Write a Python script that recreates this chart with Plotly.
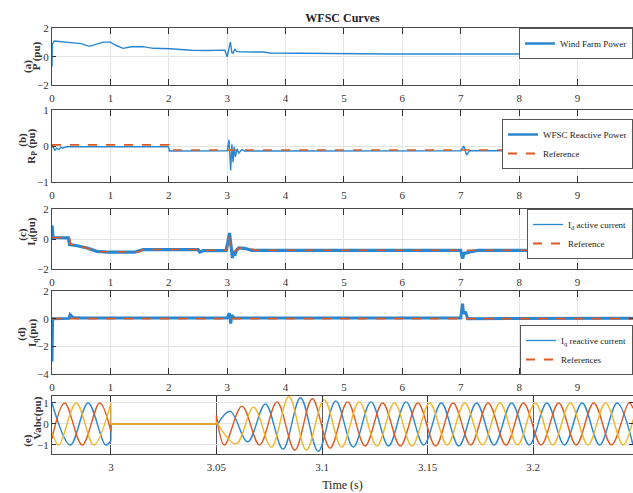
import plotly.graph_objects as go

# ---------------- data ----------------
# (a) Wind farm power
P_T = [0, 0.005, 0.04, 0.25, 0.42, 0.5, 0.64, 0.77, 0.88, 1.0, 1.1, 1.22, 1.36, 1.56, 1.73, 2.02, 2.19, 2.39, 2.65, 2.96,
       3.0, 3.03, 3.055, 3.08, 3.1, 3.13, 3.16, 3.22, 3.62, 3.74, 4.5, 5.7, 5.8, 9.95]
P_V = [-0.7, 0.9, 1.12, 1.04, 1.0, 0.93, 0.74, 0.93, 1.04, 1.04, 0.8, 0.6, 0.71, 0.72, 0.6, 0.57, 0.52, 0.46, 0.45, 0.47,
       0.0, 0.6, 1.05, 0.3, 0.25, 0.55, 0.38, 0.35, 0.34, 0.27, 0.26, 0.25, 0.2, 0.2]

# (b) Reactive power and reference
RP_T = [0, 0.02, 0.05, 0.08, 0.12, 0.15, 0.18, 0.25, 1.99, 2.0, 2.01, 3.0, 3.03, 3.06, 3.08, 3.1, 3.12, 3.14, 3.17, 3.2,
        3.25, 3.3, 7.0, 7.05, 7.1, 7.15, 9.95]
RP_V = [0.03, -0.05, -0.12, -0.06, -0.1, -0.03, -0.06, -0.02, -0.02, -0.05, -0.14, -0.13, 0.17, -0.68, 0.05, -0.45, -0.02,
        -0.3, -0.08, -0.2, -0.1, -0.14, -0.13, 0.0, -0.25, -0.13, -0.13]
RREF_T = [0, 2.0, 2.0, 9.95]
RREF_V = [0.03, 0.03, -0.11, -0.11]

# (c) Id active current and reference
ID_T = [0, 0.01, 0.02, 0.28, 0.3, 0.43, 0.6, 0.77, 0.95, 1.41, 1.5, 1.56, 2.5, 2.53, 2.59, 2.98, 3.01, 3.04, 3.07, 3.09,
        3.11, 3.13, 3.16, 3.2, 3.3, 3.42, 7.0, 7.03, 7.06, 7.1, 7.2, 7.3, 9.95]
ID_V = [0.9, 0.3, 0.1, 0.08, -0.38, -0.45, -0.6, -0.82, -0.88, -0.88, -0.78, -0.71, -0.71, -0.87, -0.78, -0.78, -0.24,
        0.4, -0.6, -1.27, -0.8, -1.1, -0.75, -0.6, -0.62, -0.76, -0.76, -1.3, -0.95, -0.93, -0.82, -0.76, -0.76]
IDR_T = [0, 0.3, 0.32, 0.5, 0.8, 1.5, 1.55, 2.5, 2.55, 2.65, 3.0, 3.03, 3.06, 3.1, 3.2, 3.35, 3.5, 9.95]
IDR_V = [0.1, 0.1, -0.35, -0.5, -0.85, -0.85, -0.7, -0.7, -0.82, -0.75, -0.75, 0.2, -0.5, -0.9, -0.6, -0.62, -0.75, -0.75]

# (d) Iq reactive current and reference
IQ_T = [0, 0.01, 0.29, 0.31, 0.36, 0.5, 3.0, 3.04, 3.06, 3.08, 3.12, 7.0, 7.03, 7.05, 7.08, 7.12, 9.95]
IQ_V = [-3.1, 0.0, 0.02, 0.3, 0.08, 0.05, 0.05, 0.4, -0.35, 0.25, 0.05, 0.05, 1.08, 0.35, 0.5, 0.0, 0.03]
IQR_T = [0, 9.95]
IQR_V = [0, 0]

# (e) Three-phase voltages (extrema)
VA_PRE_T = [2.9721, 2.9808, 2.9892, 2.9975, 3.0]
VA_PRE_V = [1.0, -1.0, 1.0, -1.0, -0.8]
VB_PRE_T = [2.9721, 2.9781, 2.9864, 2.9947, 3.0]
VB_PRE_V = [-0.7, 1.0, -1.0, 1.0, -0.35]
VC_PRE_T = [2.9721, 2.9753, 2.9836, 2.9919, 3.0]
VC_PRE_V = [-0.4, -1.0, 1.0, -1.0, 1.0]

FAULT_T = [3.0, 3.05]
FAULT_V = [0.0, 0.0]

VA_POST_T = [3.05, 3.0565, 3.0648, 3.0732, 3.0815, 3.0898, 3.0982, 3.1065, 3.1148, 3.1232, 3.1315, 3.1398, 3.1482,
             3.1565, 3.1648, 3.1732, 3.1815, 3.1898, 3.1982, 3.2065, 3.2148, 3.2232, 3.2315, 3.2398, 3.2473]
VA_POST_V = [-0.1, 0.6, -0.85, 0.95, -1.2, 1.25, -1.3, 1.1, -1.1, 1.05, -1.05, 1.05, -1.0, 1.0, -1.05, 1.0, -1.0, 1.0,
             -1.0, 1.0, -1.0, 1.0, -1.0, 1.0, -1.0]
VB_POST_T = [3.05, 3.0538, 3.0621, 3.0704, 3.0787, 3.0871, 3.0954, 3.1038, 3.1121, 3.1204, 3.1287, 3.1371, 3.1454,
             3.1538, 3.1621, 3.1704, 3.1787, 3.1871, 3.1954, 3.2038, 3.2121, 3.2204, 3.2287, 3.2371, 3.2454, 3.2473]
VB_POST_V = [0.4, -1.0, 0.85, -1.0, 1.05, -1.25, 1.2, -1.15, 1.05, -1.05, 1.0, -1.05, 1.0, -1.05, 1.0, -1.0, 1.0, -1.0,
             1.0, -1.0, 1.0, -1.0, 1.0, -1.0, 1.0, 0.75]
VC_POST_T = [3.05, 3.0593, 3.0676, 3.0760, 3.0843, 3.0926, 3.1010, 3.1093, 3.1176, 3.1260, 3.1343, 3.1426, 3.1510,
             3.1593, 3.1676, 3.1760, 3.1843, 3.1926, 3.2010, 3.2093, 3.2176, 3.2260, 3.2343, 3.2426, 3.2473]
VC_POST_V = [0.1, -0.95, 0.8, -1.1, 1.3, -1.25, 1.15, -1.1, 1.05, -1.05, 1.0, -1.05, 1.0, -1.0, 1.0, -1.0, 1.0, -1.0,
             1.0, -1.0, 1.0, -1.0, 1.0, -1.0, 0.2]

X_TICKS = [0, 1, 2, 3, 4, 5, 6, 7, 8, 9]
E_TICKS = [3, 3.05, 3.1, 3.15, 3.2]
E_TICKTEXT = ["3", "3.05", "3.1", "3.15", "3.2"]

# ---------------- styling ----------------
BLUE = "#2a86cf"
ORANGE = "#de5a22"
YELLOW = "#efb62c"
SERIF = "Liberation Serif"
W, H = 633, 493
ML, MR, MT, MB = 52, 0, 28, 39
PW, PH = W - ML - MR, H - MT - MB


def px_x(px):
    return (px - ML) / PW


def px_y(py):
    return (H - MB - py) / PH


fig = go.Figure()


def add_line(x, y, ax, color, width, dash=None):
    fig.add_trace(go.Scatter(x=x, y=y, mode="lines", showlegend=False,
                             line=dict(color=color, width=width, dash=dash),
                             xaxis="x" + ax, yaxis="y" + ax))


def add_legend_entry(name, ax, legend, color, width, dash=None):
    # legend swatch only (no data drawn)
    fig.add_trace(go.Scatter(x=[None], y=[None], mode="lines", name=name, legend=legend,
                             line=dict(color=color, width=width, dash=dash),
                             xaxis="x" + ax, yaxis="y" + ax, hoverinfo="skip"))


# (a)
add_line(P_T, P_V, "", BLUE, 1.4)
add_legend_entry("Wind Farm Power", "", "legend", BLUE, 2.5)
# (b)
add_line(RP_T, RP_V, "2", BLUE, 1.4)
add_line(RREF_T, RREF_V, "2", ORANGE, 1.6, "dash")
add_legend_entry("WFSC Reactive Power", "2", "legend2", BLUE, 2.5)
add_legend_entry("Reference", "2", "legend2", ORANGE, 2.0, "dash")
# (c)
add_line(ID_T, ID_V, "3", BLUE, 3.2)
add_line(IDR_T, IDR_V, "3", ORANGE, 1.6, "dash")
add_legend_entry("I<sub>d</sub> active current", "3", "legend3", BLUE, 1.3)
add_legend_entry("Reference", "3", "legend3", ORANGE, 2.0, "dash")
# (d)
add_line(IQ_T, IQ_V, "4", BLUE, 3.0)
add_line(IQR_T, IQR_V, "4", ORANGE, 1.6, "dash")
add_legend_entry("I<sub>q</sub> reactive current", "4", "legend4", BLUE, 1.3)
add_legend_entry("References", "4", "legend4", ORANGE, 2.0, "dash")

# (e)
phases = [
    (VA_PRE_T, VA_PRE_V, VA_POST_T, VA_POST_V, BLUE),
    (VB_PRE_T, VB_PRE_V, VB_POST_T, VB_POST_V, ORANGE),
    (VC_PRE_T, VC_PRE_V, VC_POST_T, VC_POST_V, YELLOW),
]
for pre_t, pre_v, post_t, post_v, col in phases:
    fig.add_trace(go.Scatter(x=pre_t, y=pre_v, mode="lines", line=dict(color=col, width=1.4, shape="spline"),
                             xaxis="x5", yaxis="y5", showlegend=False, hoverinfo="skip"))
    fig.add_trace(go.Scatter(x=[FAULT_T[0], FAULT_T[0], FAULT_T[1], FAULT_T[1]],
                             y=[pre_v[-1], FAULT_V[0], FAULT_V[1], post_v[0]], mode="lines",
                             line=dict(color=col, width=1.4), xaxis="x5", yaxis="y5",
                             showlegend=False, hoverinfo="skip"))
    fig.add_trace(go.Scatter(x=post_t, y=post_v, mode="lines", line=dict(color=col, width=1.4, shape="spline"),
                             xaxis="x5", yaxis="y5", showlegend=False, hoverinfo="skip"))

tickfont = dict(family=SERIF, size=11, color="#333")


def xax(anchor, rng, tickvals, ticktext=None, gridcolor="#e4e4e4"):
    d = dict(anchor=anchor, domain=[0, 1], range=rng, tickmode="array", tickvals=tickvals,
             showline=True, linecolor="#4a4a4a", linewidth=1, mirror="ticks",
             ticks="inside", ticklen=6, tickcolor="#333", tickwidth=1,
             showgrid=True, gridcolor=gridcolor, gridwidth=1, zeroline=False,
             tickfont=tickfont, ticklabelstandoff=3)
    if ticktext is not None:
        d["ticktext"] = ticktext
    return d


def yax(anchor, dom, rng, tickvals):
    return dict(anchor=anchor, domain=dom, range=rng, tickmode="array", tickvals=tickvals,
                showline=True, linecolor="#4a4a4a", linewidth=1, mirror="ticks",
                ticks="inside", ticklen=4, tickcolor="#333", tickwidth=1,
                showgrid=True, gridcolor="#e4e4e4", gridwidth=1, zeroline=False,
                tickfont=tickfont)


XR = [0, 9.95]
fig.update_layout(
    xaxis=xax("y", XR, X_TICKS),
    xaxis2=xax("y2", XR, X_TICKS),
    xaxis3=xax("y3", XR, X_TICKS),
    xaxis4=xax("y4", XR, X_TICKS),
    xaxis5=xax("y5", [2.9721, 3.2473], E_TICKS, E_TICKTEXT, gridcolor="#5a5a5a"),
    yaxis=yax("x", [px_y(85), px_y(28)], [-2, 2.04], [-2, 0, 2]),
    yaxis2=yax("x2", [px_y(182), px_y(110)], [-1, 1], [-1, 0, 1]),
    yaxis3=yax("x3", [px_y(269), px_y(209)], [-2, 2], [-2, 0, 2]),
    yaxis4=yax("x4", [px_y(374), px_y(291)], [-4, 2], [-4, -2, 0, 2]),
    yaxis5=yax("x5", [0, px_y(396)], [-1.43, 1.33], [-1, 0, 1]),
)
fig.layout.xaxis5.title = dict(text="Time (s)", font=dict(family=SERIF, size=12, color="#222"), standoff=8)

legend_common = dict(bgcolor="white", bordercolor="#555", borderwidth=1,
                     font=dict(family=SERIF, size=9, color="#222"),
                     xanchor="right", x=1, tracegroupgap=0)
fig.update_layout(
    legend=dict(legend_common, y=1.0, yanchor="top"),
    legend2=dict(legend_common, y=px_y(119), yanchor="top"),
    legend3=dict(legend_common, y=px_y(209), yanchor="top"),
    legend4=dict(legend_common, y=px_y(375), yanchor="bottom"),
)

# y-axis labels (two parts each, rotated)
ylabels = [
    ("(a)", 28, 66), ("P (pu)", 36.7, 55.5),
    ("(b)", 21.7, 140), ("R<sub>P</sub> (pu)", 31.7, 146),
    ("(c)", 21.7, 234), ("I<sub>d</sub>(pu)", 31.7, 232),
    ("(d)", 21.7, 334), ("I<sub>q</sub>(pu)", 33, 333),
    ("(e)", 26.7, 440), ("Vabc(pu)", 36.7, 418),
]
for txt, px, py in ylabels:
    fig.add_annotation(text="<b>" + txt + "</b>", xref="paper", yref="paper", x=px_x(px), y=px_y(py),
                       xanchor="center", yanchor="middle", textangle=-90, showarrow=False,
                       font=dict(family=SERIF, size=11, color="#333"))

fig.update_layout(
    width=W, height=H,
    margin=dict(l=ML, r=MR, t=MT, b=MB, autoexpand=False),
    paper_bgcolor="white", plot_bgcolor="white",
    title=dict(text="<b>WFSC Curves</b>", x=0.5, xref="paper", y=1 - 18 / H, yref="container",
               xanchor="center", yanchor="middle", font=dict(family=SERIF, size=12, color="#222")),
    showlegend=True,
)

fig.write_html("out.html")
